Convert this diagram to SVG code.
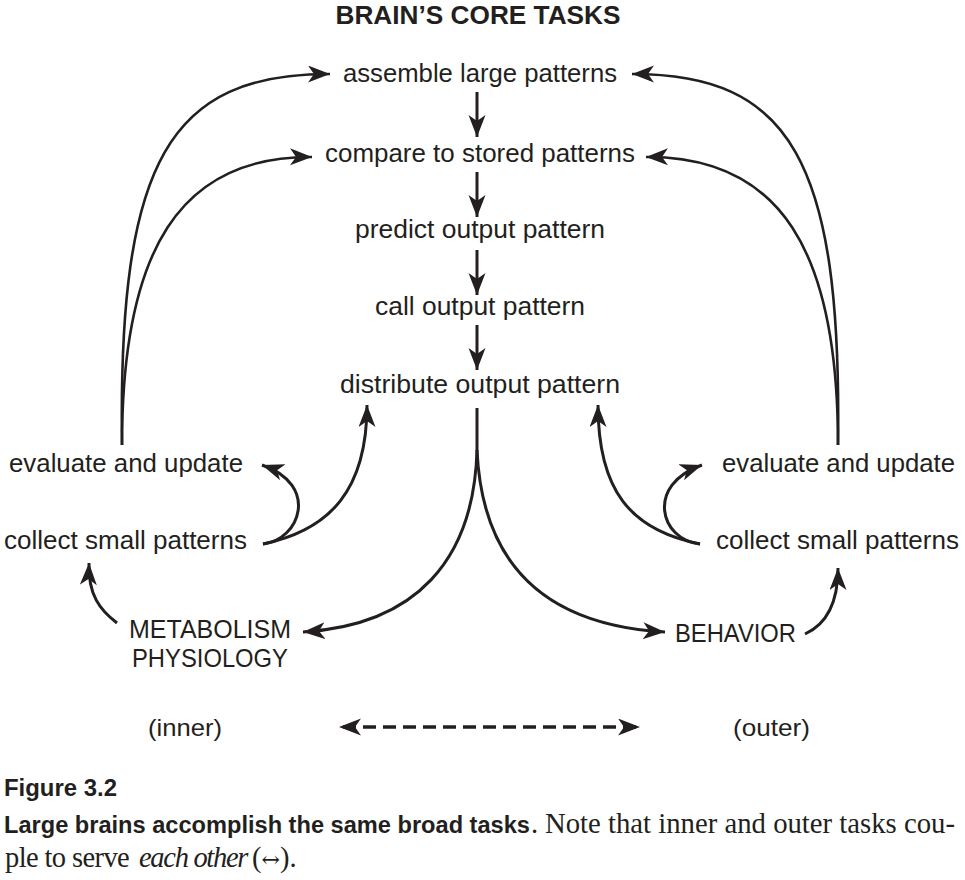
<svg xmlns="http://www.w3.org/2000/svg" width="965" height="880" viewBox="0 0 965 880">
<style>
.lbl{font-family:"Liberation Sans",Arial,sans-serif;font-size:25px;fill:#231f20}
.ttl{font-family:"Liberation Sans",Arial,sans-serif;font-size:25px;font-weight:bold;fill:#231f20}
.cnd{font-family:"Liberation Sans",Arial,sans-serif;font-size:24px;fill:#231f20}
.fig{font-family:"Liberation Sans",Arial,sans-serif;font-size:23px;font-weight:bold;fill:#231f20}
.cap{font-family:"Liberation Serif","Times New Roman",serif;font-size:28.5px;fill:#231f20}
.ln{fill:none;stroke:#231f20;stroke-width:3}
.thin{fill:none;stroke:#231f20;stroke-width:2.6}
</style>
<defs>
<marker id="ah" markerUnits="userSpaceOnUse" markerWidth="26" markerHeight="20" refX="22" refY="8.5" orient="auto">
<path d="M0,0 L22,8.5 L0,17 L6,8.5 Z" fill="#231f20"/>
</marker>
<marker id="ahs" markerUnits="userSpaceOnUse" markerWidth="26" markerHeight="20" refX="22" refY="8.5" orient="auto-start-reverse">
<path d="M0,0 L22,8.5 L0,17 L6,8.5 Z" fill="#231f20"/>
</marker>
</defs>
<rect width="965" height="880" fill="#ffffff"/>
<text class="ttl" x="478" y="24" text-anchor="middle" textLength="285" lengthAdjust="spacingAndGlyphs">BRAIN’S CORE TASKS</text>

<g id="n-assemble"><text class="lbl" x="343" y="82" textLength="274" lengthAdjust="spacingAndGlyphs">assemble large patterns</text></g>
<g id="n-compare"><text class="lbl" x="325" y="162" textLength="310" lengthAdjust="spacingAndGlyphs">compare to stored patterns</text></g>
<g id="n-predict"><text class="lbl" x="355" y="238" textLength="250" lengthAdjust="spacingAndGlyphs">predict output pattern</text></g>
<g id="n-call"><text class="lbl" x="375" y="315" textLength="210" lengthAdjust="spacingAndGlyphs">call output pattern</text></g>
<g id="n-distribute"><text class="lbl" x="340" y="393" textLength="280" lengthAdjust="spacingAndGlyphs">distribute output pattern</text></g>
<g id="n-eval-left"><text class="lbl" x="9" y="472" textLength="234" lengthAdjust="spacingAndGlyphs">evaluate and update</text></g>
<g id="n-collect-left"><text class="lbl" x="4" y="549" textLength="243" lengthAdjust="spacingAndGlyphs">collect small patterns</text></g>
<g id="n-metab"><text class="lbl" x="129" y="638" textLength="162" lengthAdjust="spacingAndGlyphs">METABOLISM</text><text class="lbl" x="132" y="667" textLength="156" lengthAdjust="spacingAndGlyphs">PHYSIOLOGY</text></g>
<g id="n-eval-right"><text class="lbl" x="722" y="472" textLength="233" lengthAdjust="spacingAndGlyphs">evaluate and update</text></g>
<g id="n-collect-right"><text class="lbl" x="716" y="549" textLength="243" lengthAdjust="spacingAndGlyphs">collect small patterns</text></g>
<g id="n-behavior"><text class="lbl" x="675" y="642" textLength="121" lengthAdjust="spacingAndGlyphs">BEHAVIOR</text></g>
<g id="n-inner"><text class="cnd" x="148" y="736" textLength="74" lengthAdjust="spacingAndGlyphs">(inner)</text></g>
<g id="n-outer"><text class="cnd" x="733" y="736" textLength="77" lengthAdjust="spacingAndGlyphs">(outer)</text></g>

<g id="connectors">
<path class="ln" d="M477,92 L477,137" marker-end="url(#ah)"/>
<path class="ln" d="M477,172 L477,217" marker-end="url(#ah)"/>
<path class="ln" d="M477,250 L477,295" marker-end="url(#ah)"/>
<path class="ln" d="M477,325 L477,370" marker-end="url(#ah)"/>

<path class="thin" d="M122,445 C118,160 170,74 330,74" marker-end="url(#ah)"/>
<path class="thin" d="M122,445 C122,250 180,156 312,157" marker-end="url(#ah)"/>
<path class="thin" d="M838,445 C842,160 790,74 632,74" marker-end="url(#ah)"/>
<path class="thin" d="M838,445 C838,250 780,156 646,157" marker-end="url(#ah)"/>

<path class="ln" d="M263,544 C300,540 320,485 262,465" marker-end="url(#ah)"/>
<path class="ln" d="M263,544 C330,530 367,490 367,405" marker-end="url(#ah)"/>
<path class="ln" d="M117,623 C100,610 88,595 89,563" marker-end="url(#ah)"/>

<path class="ln" d="M700,544 C660,540 645,485 702,465" marker-end="url(#ah)"/>
<path class="ln" d="M700,544 C630,530 598,490 598,405" marker-end="url(#ah)"/>
<path class="ln" d="M805,634 C825,625 838,605 838,568" marker-end="url(#ah)"/>

<path class="ln" d="M477,408 L477,450"/>
<path class="ln" d="M477,450 C474,560 416,625 303,632" marker-end="url(#ah)"/>
<path class="ln" d="M477,450 C482,560 540,625 665,632" marker-end="url(#ah)"/>

<path d="M339,727 L640,727" fill="none" stroke="#231f20" stroke-width="3.5" stroke-dasharray="13 7" stroke-dashoffset="-4" marker-start="url(#ahs)" marker-end="url(#ah)"/>
</g>

<text class="fig" x="4" y="796" textLength="113" lengthAdjust="spacingAndGlyphs">Figure 3.2</text>
<text class="fig" x="4" y="833" textLength="526" lengthAdjust="spacingAndGlyphs">Large brains accomplish the same broad tasks</text>
<text class="cap" x="531" y="833">.</text>
<text class="cap" x="545" y="833" textLength="410" lengthAdjust="spacingAndGlyphs">Note that inner and outer tasks cou-</text>
<text class="cap" y="867"><tspan x="5" letter-spacing="-0.6">ple to serve </tspan><tspan x="139" font-style="italic" letter-spacing="-1.3">each other</tspan><tspan x="252">(<tspan font-family="'DejaVu Serif',serif" font-size="22px">↔</tspan>).</tspan></text>
</svg>
